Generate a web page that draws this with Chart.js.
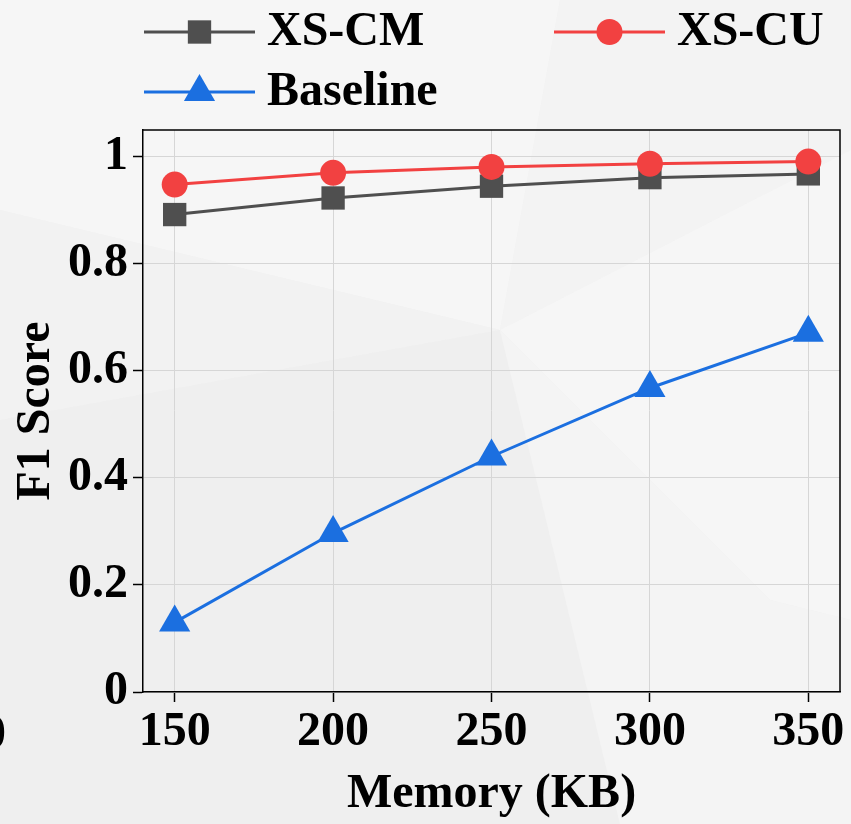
<!DOCTYPE html>
<html>
<head>
<meta charset="utf-8">
<script src="https://cdn.jsdelivr.net/npm/chart.js@4.4.1/dist/chart.umd.min.js"></script>
<style>
  html, body { margin: 0; padding: 0; }
  body { width: 851px; height: 824px; overflow: hidden; position: relative; background: #efefef; }
  #bg { position: absolute; left: 0; top: 0; }
  #chart { position: absolute; left: 0; top: 0; }
</style>
</head>
<body>
<!-- soft low-poly backdrop -->
<svg id="bg" width="851" height="824" xmlns="http://www.w3.org/2000/svg">
  <rect x="0" y="0" width="851" height="824" fill="#f0f0f0"/>
  <polygon points="0,0 560,0 500,330 0,210" fill="#f6f6f6"/>
  <polygon points="560,0 851,0 851,150 500,330" fill="#f3f3f3"/>
  <polygon points="500,330 851,150 851,620 770,600" fill="#f6f6f6"/>
  <polygon points="0,210 500,330 0,420" fill="#f2f2f2"/>
  <polygon points="0,420 500,330 620,824 0,824" fill="#efefef"/>
  <polygon points="500,330 770,600 851,620 851,824 620,824" fill="#f4f4f4"/>
</svg>
<canvas id="chart" width="851" height="824"></canvas>
<script>
// Memory budget (KB) on the x axis
const memory = [150, 200, 250, 300, 350];

// F1 scores per method
const xsCM = [0.892, 0.923, 0.945, 0.961, 0.968];
const xsCU = [0.948, 0.970, 0.981, 0.987, 0.991];
const baseline = [0.13, 0.297, 0.44, 0.568, 0.671];

// Tick values
const xTicks = [150, 200, 250, 300, 350];
const yTicks = [0, 0.2, 0.4, 0.6, 0.8, 1];

const seriesNames = ['XS-CM', 'XS-CU', 'Baseline'];

const SERIF = "'Liberation Serif', 'Times New Roman', serif";
const GRID = '#d6d6d6';

function pts(values) {
  return memory.map((m, i) => ({ x: m, y: values[i] }));
}

// Box around the plotting area (top and right edges)
const frame = {
  id: 'frame',
  afterDatasetsDraw(chart) {
    const { ctx, chartArea: a } = chart;
    ctx.save();
    ctx.strokeStyle = '#000';
    ctx.lineWidth = 1.5;
    ctx.beginPath();
    ctx.moveTo(a.left, a.top);
    ctx.lineTo(a.right, a.top);
    ctx.lineTo(a.right, a.bottom);
    ctx.stroke();
    ctx.restore();
  }
};

// Two-column legend with a line through each marker
const lineLegend = {
  id: 'lineLegend',
  afterDraw(chart) {
    const { ctx, chartArea: a } = chart;
    const slots = [
      { x: a.left + 1, y: 32 },
      { x: a.left + 411, y: 32 },
      { x: a.left + 1, y: 92 }
    ];
    const lineLen = 111;
    chart.data.datasets.forEach((ds, i) => {
      const s = slots[i];
      ctx.save();
      ctx.strokeStyle = ds.borderColor;
      ctx.lineWidth = 3;
      ctx.beginPath();
      ctx.moveTo(s.x, s.y);
      ctx.lineTo(s.x + lineLen, s.y);
      ctx.stroke();
      const opts = {
        pointStyle: ds.pointStyle,
        radius: ds.pointRadius,
        rotation: 0,
        borderWidth: 0
      };
      ctx.fillStyle = ds.pointBackgroundColor;
      ctx.strokeStyle = ds.pointBackgroundColor;
      Chart.helpers.drawPoint(ctx, opts, s.x + lineLen / 2, s.y);
      ctx.fillStyle = '#000';
      ctx.font = 'bold 48px ' + SERIF;
      ctx.textBaseline = 'middle';
      ctx.textAlign = 'left';
      ctx.fillText(ds.label, s.x + lineLen + 12, s.y + 1);
      ctx.restore();
    });
    // clipped tick label from the neighbouring panel at the left edge
    ctx.save();
    ctx.fillStyle = '#000';
    ctx.font = 'bold 48px ' + SERIF;
    ctx.textAlign = 'right';
    ctx.textBaseline = 'alphabetic';
    ctx.fillText('0', 6, 748);
    ctx.restore();
  }
};

const tickFont = { family: SERIF, size: 48, weight: 'bold' };

new Chart(document.getElementById('chart'), {
  type: 'line',
  data: {
    datasets: [
      {
        label: seriesNames[0],
        data: pts(xsCM),
        borderColor: '#4f4f4f',
        backgroundColor: '#4f4f4f',
        pointBackgroundColor: '#4f4f4f',
        pointBorderColor: '#4f4f4f',
        pointStyle: 'rect',
        pointRadius: 16.5,
        pointHoverRadius: 16.5,
        pointBorderWidth: 0,
        borderWidth: 3,
        order: 2
      },
      {
        label: seriesNames[1],
        data: pts(xsCU),
        borderColor: '#f24141',
        backgroundColor: '#f24141',
        pointBackgroundColor: '#f24141',
        pointBorderColor: '#f24141',
        pointStyle: 'circle',
        pointRadius: 13,
        pointHoverRadius: 13,
        pointBorderWidth: 0,
        borderWidth: 3,
        order: 1
      },
      {
        label: seriesNames[2],
        data: pts(baseline),
        borderColor: '#1b6fe0',
        backgroundColor: '#1b6fe0',
        pointBackgroundColor: '#1b6fe0',
        pointBorderColor: '#1b6fe0',
        pointStyle: 'triangle',
        pointRadius: 18,
        pointHoverRadius: 18,
        pointBorderWidth: 0,
        borderWidth: 3,
        order: 0
      }
    ]
  },
  options: {
    responsive: false,
    animation: false,
    events: [],
    clip: false,
    layout: { autoPadding: false, padding: { top: 130, right: 11, left: 0, bottom: 0 } },
    plugins: {
      legend: { display: false },
      tooltip: { enabled: false }
    },
    scales: {
      x: {
        type: 'linear',
        min: 140,
        max: 360,
        afterBuildTicks: s => { s.ticks = xTicks.map(v => ({ value: v })); },
        afterFit: s => { s.height = 132; },
        ticks: {
          font: tickFont,
          color: '#000',
          padding: 2,
          maxRotation: 0,
          autoSkip: false,
          callback: v => String(v)
        },
        grid: { color: GRID, lineWidth: 1, tickLength: 10, tickColor: '#000', tickWidth: 1.5 },
        border: { color: '#000', width: 1.5 },
        title: {
          display: true,
          text: 'Memory (KB)',
          color: '#000',
          font: { family: SERIF, size: 48, weight: 'bold', lineHeight: 1.2 },
          padding: { top: 0, bottom: 1 }
        }
      },
      y: {
        min: 0,
        max: 1.05,
        afterBuildTicks: s => { s.ticks = yTicks.map(v => ({ value: v })); },
        afterFit: s => { s.width = 143; },
        ticks: {
          font: tickFont,
          color: '#000',
          padding: 5,
          callback: v => String(+v.toFixed(1))
        },
        grid: { color: GRID, lineWidth: 1, tickLength: 10, tickColor: '#000', tickWidth: 1.5 },
        border: { color: '#000', width: 1.5 },
        title: {
          display: true,
          text: 'F1 Score',
          color: '#000',
          font: { family: SERIF, size: 48, weight: 'bold', lineHeight: 1.2 },
          padding: { top: 8, bottom: 0 }
        }
      }
    }
  },
  plugins: [frame, lineLegend]
});
</script>
</body>
</html>
